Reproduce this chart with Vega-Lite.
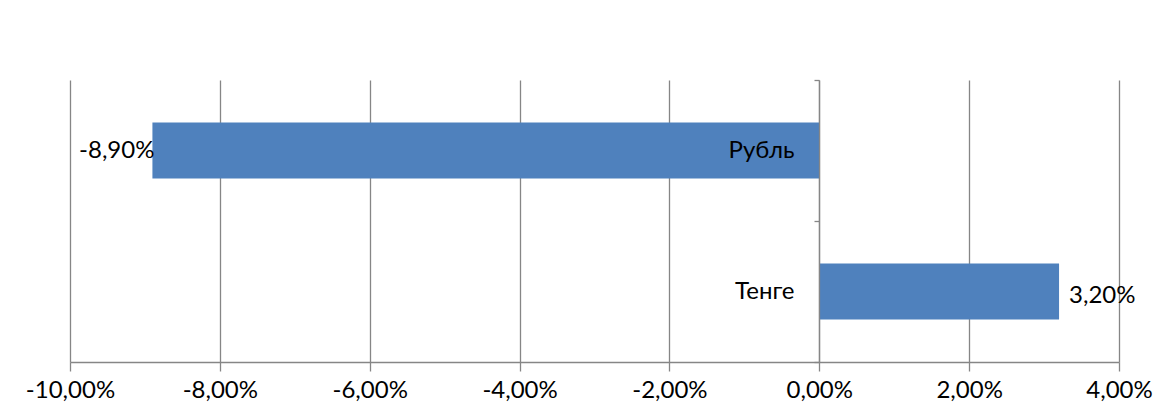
{
  "$schema": "https://vega.github.io/schema/vega-lite/v6.json",
  "width": 1049,
  "height": 282,
  "autosize": {"type": "none"},
  "padding": {"left": 70, "top": 80, "right": 38, "bottom": 48},
  "background": "white",
  "config": {
    "view": {"stroke": null},
    "font": "Lato",
    "axis": {"labelFont": "Lato", "labelFontSize": 24, "labelColor": "black", "domainColor": "#868686", "tickColor": "#868686", "gridColor": "#868686", "gridOpacity": 1, "domainWidth": 1.3, "tickWidth": 1.3, "gridWidth": 1.3}
  },
  "data": {
    "values": [
      {"currency": "Рубль", "change": -0.089, "label": "-8,90%"},
      {"currency": "Тенге", "change": 0.032, "label": "3,20%"}
    ]
  },
  "encoding": {
    "y": {
      "field": "currency", "type": "nominal", "sort": ["Рубль", "Тенге"],
      "scale": {"paddingInner": 0, "paddingOuter": 0},
      "axis": {"title": null, "offset": -749, "tickBand": "extent", "tickSize": 5, "labelPadding": 20, "grid": false, "zindex": 1}
    },
    "x": {
      "field": "change", "type": "quantitative",
      "scale": {"domain": [-0.1, 0.04], "nice": false, "zero": false},
      "axis": {"title": null, "values": [-0.1, -0.08, -0.06, -0.04, -0.02, 0, 0.02, 0.04], "tickSize": 9, "labelPadding": 7, "labelFlush": false, "labelOverlap": false, "grid": true, "domain": true,
        "labelExpr": "replace(replace(format(datum.value, '.2%'), '.', ','), '\u2212', '-')"}
    }
  },
  "layer": [
    {"mark": {"type": "bar", "color": "#4F81BD", "height": {"band": 0.397}}},
    {
      "transform": [{"filter": "datum.change < 0"}],
      "mark": {"type": "text", "align": "right", "dx": 2, "fontSize": 24, "font": "Lato", "color": "black"},
      "encoding": {"text": {"field": "label"}}
    },
    {
      "transform": [{"filter": "datum.change >= 0"}],
      "mark": {"type": "text", "align": "left", "dx": 10, "dy": 4, "fontSize": 24, "font": "Lato", "color": "black"},
      "encoding": {"text": {"field": "label"}}
    }
  ]
}
